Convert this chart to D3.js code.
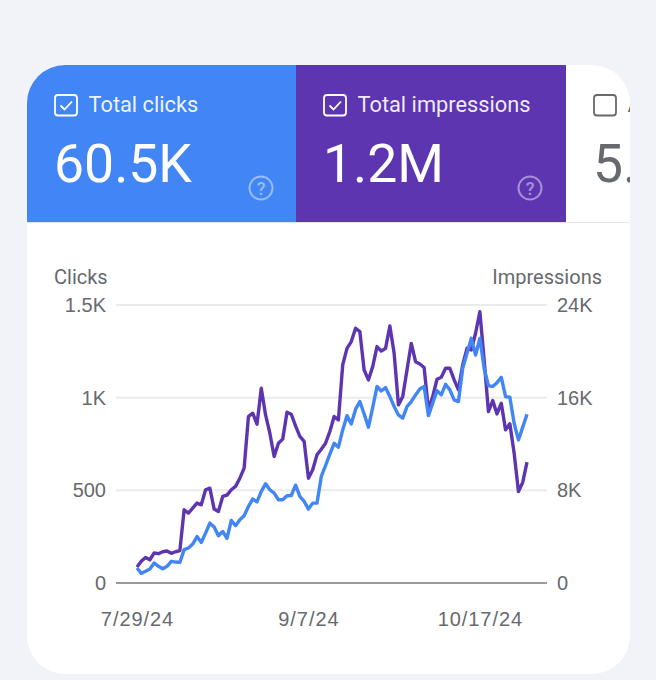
<!DOCTYPE html>
<html>
<head>
<meta charset="utf-8">
<script src="https://cdn.jsdelivr.net/npm/d3@7"></script>
<style>
  html, body { margin: 0; padding: 0; background: #f1f3f9; }
  svg { display: block; font-family: Roboto, sans-serif; }
  .tick text { font-size: 20px; fill: #66696d; }
  .dates .tick text { letter-spacing: 0.95px; }
</style>
</head>
<body>
<div id="chart"></div>
<script>
const clicks = [
  81, 52, 63, 75, 108, 90, 77, 90, 117, 113, 111, 180, 189, 210, 251, 219, 269, 323, 302, 255, 278, 241, 338,
  309, 341, 363, 413, 453, 438, 494, 535, 503, 485, 449, 449, 471, 472, 528, 467, 440, 399, 431, 431, 575, 634,
  695, 754, 733, 826, 903, 858, 938, 979, 912, 841, 948, 1060, 1036, 1054, 1006, 952, 907, 889, 952, 979, 1015,
  1047, 1060, 903, 970, 1038, 1015, 1072, 1042, 988, 979, 1158, 1239, 1320, 1230, 1320, 1158, 1065, 1060, 1081,
  1110, 1006, 1002, 862, 772, 841, 911
];
const impressions = [
  1380, 1870, 2210, 2010, 2590, 2530, 2700, 2760, 2560, 2700, 2790, 6320, 6040, 6470, 6900, 6750, 8050, 8190,
  6380, 6180, 7470, 7590, 8050, 8340, 9050, 9920, 14370, 14660, 13710, 16810, 14510, 12930, 10920, 12070, 12420,
  14740, 14570, 13570, 12650, 12220, 9050, 9770, 11070, 11550, 12070, 13080, 14370, 14080, 18830, 20260, 20840,
  21990, 21700, 18390, 17530, 18680, 20410, 20030, 20260, 22190, 19830, 15380, 16090, 18390, 20690, 19110, 18910,
  18600, 14950, 16090, 17590, 17760, 18540, 18540, 17530, 16670, 18830, 20260, 20120, 21560, 23420, 19260, 14800,
  15750, 14600, 15520, 13220, 13740, 11210, 7900, 8680, 10430
];
const startDate = new Date(2024, 6, 29);
const dateTicks = [new Date(2024, 6, 29), new Date(2024, 8, 7), new Date(2024, 9, 17)];
const clickTicks = [0, 500, 1000, 1500];
const clickLabels = ["0", "500", "1K", "1.5K"];
const impressionTicks = [0, 8000, 16000, 24000];
const impressionLabels = ["0", "8K", "16K", "24K"];

// third tab runs off the card in the reference, only its first letters show
const tabs = [
  { x: 27, w: 269, fill: "#4285f4", label: "Total clicks", value: "60.5K", on: true },
  { x: 296, w: 270, fill: "#5e35b1", label: "Total impressions", value: "1.2M", on: true },
  { x: 566, w: 270, fill: "#ffffff", label: "A", value: "5.", on: false }
];

const width = 656, height = 680;
const svg = d3.select("#chart").append("svg")
  .attr("width", width)
  .attr("height", height);

svg.append("clipPath").attr("id", "card-clip")
  .append("rect")
  .attr("x", 27).attr("y", 65)
  .attr("width", 603).attr("height", 609)
  .attr("rx", 38);

const card = svg.append("g").attr("clip-path", "url(#card-clip)");
card.append("rect")
  .attr("x", 27).attr("y", 65)
  .attr("width", 603).attr("height", 609)
  .attr("fill", "#fff");

// metric tabs
card.append("line")
  .attr("x1", 27).attr("x2", 630)
  .attr("y1", 222.5).attr("y2", 222.5)
  .attr("stroke", "#e4e5e8");

const tab = card.selectAll("g.tab")
  .data(tabs)
  .enter()
  .append("g")
  .attr("class", "tab")
  .attr("transform", d => `translate(${d.x},65)`);

tab.filter(d => d.on).append("rect")
  .attr("width", d => d.w)
  .attr("height", 157)
  .attr("fill", d => d.fill);

const fg = d => d.on ? "#fff" : "#66696d";

tab.append("rect")
  .attr("x", 28).attr("y", 30)
  .attr("width", 22).attr("height", 20.5)
  .attr("rx", 3)
  .attr("fill", "none")
  .attr("stroke", fg)
  .attr("stroke-width", 1.8);

tab.filter(d => d.on).append("path")
  .attr("d", "M33.5 40.5 L37.5 44.5 L45 36.5")
  .attr("fill", "none")
  .attr("stroke", "#fff")
  .attr("stroke-width", 1.8);

tab.append("text")
  .attr("x", 61.5).attr("y", 47)
  .attr("font-size", 21.8)
  .attr("fill", d => d.on ? "rgba(255,255,255,0.92)" : "#66696d")
  .text(d => d.label);

tab.append("text")
  .attr("x", 27).attr("y", 117)
  .attr("font-size", 53.5)
  .attr("fill", fg)
  .text(d => d.value);

const help = tab.filter(d => d.on).append("g")
  .attr("transform", "translate(234,123)")
  .attr("opacity", 0.45);
help.append("circle")
  .attr("r", 11.5)
  .attr("fill", "none")
  .attr("stroke", "#fff")
  .attr("stroke-width", 2);
help.append("text")
  .attr("y", 6.5)
  .attr("text-anchor", "middle")
  .attr("font-size", 18)
  .attr("font-weight", 500)
  .attr("fill", "#fff")
  .text("?");

// chart
const x = d3.scaleTime()
  .domain([startDate, d3.timeDay.offset(startDate, clicks.length - 1)])
  .range([137, 527]);
const yClicks = d3.scaleLinear().domain([0, 1500]).range([583, 305]);
const yImpressions = d3.scaleLinear().domain([0, 24000]).range([583, 305]);

const yLeft = card.append("g")
  .attr("transform", "translate(116,0)")
  .call(d3.axisLeft(yClicks)
    .tickValues(clickTicks)
    .tickFormat((d, i) => clickLabels[i])
    .tickSize(0)
    .tickPadding(10));
yLeft.select(".domain").remove();

const yRight = card.append("g")
  .attr("transform", "translate(547,0)")
  .call(d3.axisRight(yImpressions)
    .tickValues(impressionTicks)
    .tickFormat((d, i) => impressionLabels[i])
    .tickSize(0)
    .tickPadding(10));
yRight.select(".domain").remove();

card.append("g").selectAll("line")
  .data(clickTicks)
  .enter()
  .append("line")
  .attr("x1", 116).attr("x2", 547)
  .attr("y1", d => yClicks(d)).attr("y2", d => yClicks(d))
  .attr("stroke", d => d === 0 ? "#9a9a9a" : "#ebebeb")
  .attr("stroke-width", 2);

const xAxis = card.append("g")
  .attr("class", "dates")
  .attr("transform", "translate(0,583)")
  .call(d3.axisBottom(x)
    .tickValues(dateTicks)
    .tickFormat(d3.timeFormat("%-m/%-d/%y"))
    .tickSize(0)
    .tickPadding(29));
xAxis.select(".domain").remove();

card.append("text")
  .attr("x", 54).attr("y", 284)
  .attr("font-size", 20)
  .attr("fill", "#66696d")
  .text("Clicks");
card.append("text")
  .attr("x", 602).attr("y", 284)
  .attr("text-anchor", "end")
  .attr("font-size", 20)
  .attr("fill", "#66696d")
  .text("Impressions");

const day = i => d3.timeDay.offset(startDate, i);
const clickLine = d3.line()
  .x((d, i) => x(day(i)))
  .y(d => yClicks(d));
const impressionLine = d3.line()
  .x((d, i) => x(day(i)))
  .y(d => yImpressions(d));

card.append("path")
  .datum(impressions)
  .attr("fill", "none")
  .attr("stroke", "#5e35b1")
  .attr("stroke-width", 3.4)
  .attr("stroke-linejoin", "round")
  .attr("d", impressionLine);

card.append("path")
  .datum(clicks)
  .attr("fill", "none")
  .attr("stroke", "#4285f4")
  .attr("stroke-width", 3.4)
  .attr("stroke-linejoin", "round")
  .attr("d", clickLine);
</script>
</body>
</html>
